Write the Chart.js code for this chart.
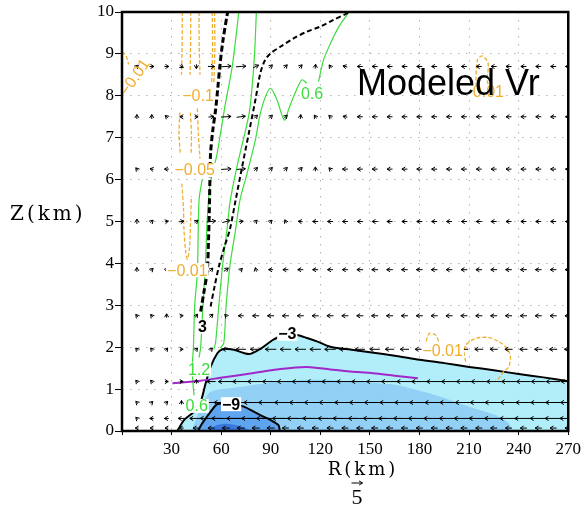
<!DOCTYPE html>
<html>
<head>
<meta charset="utf-8">
<script src="https://cdn.jsdelivr.net/npm/chart.js@4.4.1/dist/chart.umd.min.js"></script>
<style>
  html, body { margin: 0; padding: 0; background: #fff; }
</style>
</head>
<body>
<canvas id="vr" width="585" height="508"></canvas>
<script>
// radial wind (m/s) shading boundaries, R in km, Z in km
const vr3R = [33.5, 37.5, 43.5, 47.6, 50.6, 53.6, 57.6, 60.6, 64, 67.7, 73.7, 77.7, 83.7, 88.7, 91.6, 96, 100, 105.8, 112, 117.9, 126, 136.8, 150, 166, 180, 195, 210, 225, 240, 255, 270];
const vr3Z = [0, 0.26, 0.46, 0.7, 1.14, 1.53, 1.85, 1.95, 1.96, 1.94, 1.86, 1.84, 1.96, 2.1, 2.18, 2.26, 2.3, 2.29, 2.22, 2.14, 2.01, 1.95, 1.88, 1.79, 1.70, 1.62, 1.53, 1.45, 1.36, 1.28, 1.19];
const vr6R = [42, 46, 50, 53, 57, 65, 80, 95, 110, 126, 145, 166, 186, 200, 210, 226, 234, 236];
const vr6Z = [0, 0.4, 0.75, 0.92, 0.98, 1.02, 1.1, 1.18, 1.22, 1.22, 1.17, 1.1, 0.9, 0.72, 0.58, 0.38, 0.19, 0];
const vr9R = [46, 48, 51, 54, 57.6, 62, 66, 70, 73.7, 78, 83.7, 88, 91.8, 94.7, 95.3, 95.5];
const vr9Z = [0, 0.15, 0.32, 0.48, 0.64, 0.66, 0.66, 0.63, 0.58, 0.5, 0.38, 0.3, 0.22, 0.14, 0.05, 0];
const vr12R = [51, 54, 57, 61, 66, 71, 75, 78];
const vr12Z = [0, 0.08, 0.14, 0.17, 0.16, 0.12, 0.06, 0];

// positive (outflow) contours, dashed black
const out3aR = [47.6, 49.5, 51.6, 52.3, 52.8, 53.2, 53.6, 55, 56.6, 58, 59.2, 61, 63.9];
const out3aZ = [2.85, 3.3, 3.83, 4.5, 5.2, 6.0, 6.63, 7.2, 7.66, 8.2, 8.7, 9.3, 10];
const out3bR = [53.6, 56, 58.6, 62, 65.2, 68.7, 72.7, 76.7, 80.7, 83.7, 86.5, 89.8, 95.8, 103.8, 111.8, 119.9, 127.9, 136.9, 138];
const out3bZ = [2.97, 3.45, 3.92, 4.4, 4.8, 5.5, 6.31, 7.1, 7.9, 8.54, 8.85, 9.01, 9.17, 9.37, 9.53, 9.65, 9.81, 9.98, 10];

// vertical velocity (m/s), updraft contours
const wUp1R = [43.6, 42.8, 42.6, 43.2, 44, 45.6, 46.6, 48.5];
const wUp1Z = [0.85, 1.2, 1.6, 2.0, 3.0, 3.8, 5.5, 6.0];
const wUp2R = [46.6, 47.6, 49, 50.5, 51.5, 53, 55.5, 57.2, 59.6, 62.5, 66.7, 70.7];
const wUp2Z = [1.75, 2.0, 3.0, 4.0, 5.0, 5.8, 6.3, 6.55, 7.1, 7.8, 8.7, 10];
const wUp3R = [55.5, 56.6, 58.6, 61, 63.5, 65.5, 69.5, 73.7, 77, 78.7, 80.2, 81.3];
const wUp3Z = [1.95, 2.1, 3.0, 4.0, 4.8, 5.5, 6.3, 7.0, 7.6, 8.2, 9.0, 10];
const wUp4R = [59.5, 61.6, 63, 65.5, 68.7, 71.3, 75.7, 80.7, 83.7, 86.5, 89.8, 93.8, 98.2, 101, 103.8, 108.8, 111.8];
const wUp4Z = [1.98, 2.1, 3.0, 4.0, 4.8, 5.5, 6.15, 6.95, 7.58, 7.95, 8.18, 7.9, 7.42, 7.7, 7.98, 8.38, 8.3];
const wUp5R = [118.9, 121.9, 125, 128, 132, 136.9, 137.5];
const wUp5Z = [8.34, 8.85, 9.15, 9.41, 9.7, 9.97, 10];

// downdraft contours, dashed orange
const wDn = [
  [[36.5, 36.4, 36], [10, 9.3, 8.5]],
  [[35, 34.5, 35.3], [7.6, 7.1, 6.6]],
  [[36.2, 37.2, 37.5, 38.5, 39.6, 40.8, 41.5, 42], [5.9, 5.3, 4.8, 4.3, 4.1, 4.35, 5.0, 5.6]],
  [[41.6, 41.5, 41.2], [10, 9.3, 8.5]],
  [[41.4, 42, 41.8], [7.6, 7.1, 6.6]],
  [[46.6, 46.7, 47.2], [10, 9.2, 8.5]],
  [[45.6, 46.2, 47.2], [7.7, 7.1, 6.5]],
  [[54.6, 54.8, 54.3], [10, 9.2, 8.3]],
  [[56, 56.2, 55.6], [10, 9.2, 8.3]],
  [[0, 2.5, 4], [9.05, 8.95, 8.75]],
  [[214, 215, 218, 221.5, 221, 222], [8.22, 8.85, 8.95, 8.78, 8.38, 8.2]],
  [[184, 184, 186, 189.8, 192], [2.0, 2.13, 2.33, 2.29, 2.09]],
  [[208, 207, 208, 214, 222, 228, 233, 235, 234, 231, 228, 226], [1.65, 1.85, 2.05, 2.21, 2.23, 2.13, 1.97, 1.77, 1.53, 1.42, 1.26, 1.19]]
];

// boundary layer top
const blR = [30.5, 47.6, 59.6, 77.7, 95.8, 111.8, 126, 138, 152, 165, 179];
const blZ = [1.14, 1.2, 1.27, 1.37, 1.48, 1.53, 1.47, 1.42, 1.38, 1.32, 1.26];

// wind vectors (u radial, w vertical) on model levels
const arrowR = [9, 18, 27, 36, 45, 54, 63, 72, 81, 90, 99, 108, 117, 126, 135, 144, 153, 162, 171, 180, 189, 198, 207, 216, 225, 234, 243, 252, 261, 270];
const arrowZ = [8.7, 7.5, 6.25, 5.0, 3.85, 2.75, 1.95, 1.18, 0.68, 0.3, 0.07];
const arrowU = [
  [1.2, 2, 2, 1.6, 0, 3, 4.5, 4.5, 2.5, 1.5, 1.5, 1.5, 0.2, -1, -2, -2.5, -2.5, -2.5, -2.5, -2.5, -2.5, -2.5, -2.5, -2.5, -2.5, -2.5, -2.5, -2.5, -2.5, -2.5],
  [0, 0, -1.2, -1.5, 1.5, 2.5, 4.5, 4, 1.5, 1.5, 1.5, 0.2, -1, -1.3, -2, -2.5, -2.5, -2.5, -2.5, -2.5, -2.5, -2.5, -2.5, -2.5, -2.5, -2.5, -2.5, -2.5, -2.5, -2.5],
  [-1, -1.6, -2, -1.5, 1, 2.5, 4.5, 4, 1.5, 1.5, 1.5, 1.5, 0, -1.2, -2.5, -2.5, -2.5, -2.5, -2.5, -2.5, -2.5, -2.5, -2.5, -2.5, -2.5, -2.5, -2.5, -2.5, -2.5, -2.5],
  [0, 1.2, 1.6, 2.2, 1.5, 4, 3.5, 2, 1.2, 1.2, -0.8, -2, -2.5, -2.5, -2.5, -2.5, -2.5, -2.5, -2.5, -2.5, -2.5, -2.5, -2.5, -2.5, -2.5, -2.5, -2.5, -2.5, -2.5, -2.5],
  [0, 1.2, 1.2, 1, 1, 1.5, 2, 1.2, -0.5, -2, -2.5, -2.5, -2.5, -2.5, -2.5, -2.8, -2.8, -2.8, -2.8, -2.8, -2.8, -2.8, -2.8, -2.8, -2.8, -2.8, -2.8, -2.8, -2.8, -2.8],
  [-1, -1, 0, 1.5, 1, 1.5, -1.2, -2.5, -3, -3, -3, -3, -3, -3, -3, -3, -3, -3, -3, -3, -3, -3, -3, -3, -3, -3, -3, -3, -3, -3],
  [-1, -1, 1, 1.5, 1, 1, -3.5, -4.5, -5, -5, -5, -5, -5, -5, -5, -4.5, -4.5, -4, -4, -4, -4, -3.8, -3.8, -3.8, -3.5, -3.5, -3.5, -3.5, -3.5, -3.5],
  [-1, -1, 1.5, 1.5, 0, -4, -7, -7.5, -7.5, -7.5, -7.5, -7.5, -7.5, -7.5, -7.5, -7.5, -7.5, -7.5, -7, -7, -7, -7, -7, -7, -6.5, -6.5, -6.5, -6.5, -6.5, -6.5],
  [-1, 1, 1, 0, -2, -9, -11, -11, -11, -11, -10, -10, -10, -10, -9.5, -9.5, -9.5, -9, -9, -9, -8.5, -8.5, -8, -8, -8, -7.5, -7, -7, -7, -7],
  [-1, -1.8, -2, -3, -6, -10, -13, -13, -13, -13, -12, -12, -11.5, -11, -11, -10.5, -10.5, -10, -10, -10, -9.5, -9, -9, -9, -8.5, -8, -8, -7.5, -7.5, -7.5],
  [-1.5, -1.5, -1.5, -2, -3, -3, -3.5, -3.5, -3.5, -3.5, -3, -3, -3, -3, -3, -3, -3, -3, -3, -3, -3, -3, -3, -3, -3, -3, -3, -3, -3, -3]
];
const arrowW = [
  [1.2, 0, 0, -1, -2, 0, 0.3, 0.3, 1.2, 1.5, 1.5, 1.5, 2, 1.4, 0.5, 0, 0, 0, 0, 0, 0, 0, 0, 0, 0, 0, 0, 0, 0, 0],
  [2, 2, 1.2, 0, 0, 0.3, 0.3, 0.5, 1.5, 1.5, 1.5, 2, 1.5, 1.2, 0.4, 0, 0, 0, 0, 0, 0, 0, 0, 0, 0, 0, 0, 0, 0, 0],
  [1.2, 0.3, 0, 0, 0, 0, 0.3, 0.3, 1.5, 1.5, 1.5, 1.5, 2, 1.2, 0, 0, 0, 0, 0, 0, 0, 0, 0, 0, 0, 0, 0, 0, 0, 0],
  [2.2, 1.2, 0.3, 0.3, 1.2, 0.5, 1, 0.3, 1.2, 1.2, 1.5, 0.2, 0, 0, 0, 0, 0, 0, 0, 0, 0, 0, 0, 0, 0, 0, 0, 0, 0, 0],
  [2, 1.2, 1.2, 0.5, 1, 1.5, 1.5, 1.2, 1.8, 0, 0, 0, 0, 0, 0, 0, 0, 0, 0, 0, 0, 0, 0, 0, 0, 0, 0, 0, 0, 0],
  [1.2, 1.2, 1.8, 0.2, 1.5, 1.5, 1.2, 0, 0, 0, 0, 0, 0, 0, 0, 0, 0, 0, 0, 0, 0, 0, 0, 0, 0, 0, 0, 0, 0, 0],
  [1.2, 1.2, 1.2, 0, 1.2, 1.2, 0, 0, 0, 0, 0, 0, 0, 0, 0, 0, 0, 0, 0, 0, 0, 0, 0, 0, 0, 0, 0, 0, 0, 0],
  [1.2, 1.2, 0, 0, 1.8, 0, 0, 0, 0, 0, 0, 0, 0, 0, 0, 0, 0, 0, 0, 0, 0, 0, 0, 0, 0, 0, 0, 0, 0, 0],
  [1, 1, 1, 1.8, 0.5, 0, 0, 0, 0, 0, 0, 0, 0, 0, 0, 0, 0, 0, 0, 0, 0, 0, 0, 0, 0, 0, 0, 0, 0, 0],
  [1, 0, 0, 0, 0, 0, 0, 0, 0, 0, 0, 0, 0, 0, 0, 0, 0, 0, 0, 0, 0, 0, 0, 0, 0, 0, 0, 0, 0, 0],
  [0, 0, 0, 0, 0, 0, 0, 0, 0, 0, 0, 0, 0, 0, 0, 0, 0, 0, 0, 0, 0, 0, 0, 0, 0, 0, 0, 0, 0, 0]
];
const refSpeed = 5;

// contour labels
const GREEN = '#3cdc3c', ORANGE = '#efae30';
const contourLabels = [
  { text: '−3', R: 100, z: 2.32, color: '#000', bold: true },
  { text: '−9', R: 66, z: 0.64, color: '#000', bold: true },
  { text: '3', R: 48.6, z: 2.49, color: '#000', bold: true },
  { text: '1.2', R: 46.6, z: 1.47, color: GREEN },
  { text: '0.6', R: 45.2, z: 0.6, color: GREEN },
  { text: '0.6', R: 115, z: 8.06, color: GREEN },
  { text: '−0.1', R: 46, z: 8.0, color: ORANGE },
  { text: '−0.05', R: 44, z: 6.23, color: ORANGE },
  { text: '−0.01', R: 39.5, z: 3.84, color: ORANGE },
  { text: '−0.01', R: 194, z: 1.93, color: ORANGE },
  { text: '0.01', R: 221.7, z: 8.1, color: ORANGE },
  { text: '−0.01', R: 7.5, z: 8.45, color: ORANGE, rot: -55 }
];

function pts(rs, zs) {
  return rs.map((r, i) => ({ x: r, y: zs[i] }));
}
function shade(rs, zs, color, order) {
  return { data: pts(rs, zs), backgroundColor: color, borderWidth: 0, borderColor: 'rgba(0,0,0,0)',
           fill: 'origin', pointRadius: 0, tension: 0.2, clip: 0, order: order };
}
function contour(rs, zs, color, width, dash, order) {
  return { data: pts(rs, zs), borderColor: color, borderWidth: width, borderDash: dash,
           fill: false, pointRadius: 0, tension: 0.3, clip: 0, order: order };
}

const datasets = [
  shade(vr3R, vr3Z, '#b2eef9', 14),
  shade(vr6R, vr6Z, '#92d0f6', 13),
  shade(vr9R, vr9Z, '#5fa4ef', 12),
  shade(vr12R, vr12Z, '#3b76dc', 11),
  contour(vr3R, vr3Z, '#000', 2, [], 8),
  contour(vr9R, vr9Z, '#000', 2, [], 8),
  contour(wUp1R, wUp1Z, GREEN, 1.2, [], 6),
  contour(wUp2R, wUp2Z, GREEN, 1.2, [], 6),
  contour(wUp3R, wUp3Z, GREEN, 1.2, [], 6),
  contour(wUp4R, wUp4Z, GREEN, 1.2, [], 6),
  contour(wUp5R, wUp5Z, GREEN, 1.2, [], 6),
  contour(out3aR, out3aZ, '#000', 3, [6, 3], 5),
  contour(out3bR, out3bZ, '#000', 2, [5, 3], 5),
  contour(blR, blZ, '#a028c8', 2, [], 4)
];
wDn.forEach(s => datasets.push(contour(s[0], s[1], ORANGE, 1.3, [4, 2], 7)));

const K = 2.2; // px per m/s for the vectors

function arrow(ctx, x, y, dx, dy) {
  if (Math.hypot(dx, dy) < 0.5) return;
  const x0 = x - dx / 2, y0 = y - dy / 2, x1 = x + dx / 2, y1 = y + dy / 2;
  const a = Math.atan2(dy, dx), h = 4, sp = 0.55;
  ctx.moveTo(x0, y0);
  ctx.lineTo(x1, y1);
  ctx.moveTo(x1 - h * Math.cos(a - sp), y1 - h * Math.sin(a - sp));
  ctx.lineTo(x1, y1);
  ctx.lineTo(x1 - h * Math.cos(a + sp), y1 - h * Math.sin(a + sp));
}

const overlay = {
  id: 'overlay',
  afterDraw(chart) {
    const ctx = chart.ctx, area = chart.chartArea;
    const xs = chart.scales.x, ys = chart.scales.y;

    // wind vectors
    ctx.save();
    ctx.beginPath();
    ctx.rect(area.left, area.top, area.right - area.left, area.bottom - area.top);
    ctx.clip();
    ctx.strokeStyle = '#000';
    ctx.lineWidth = 1;
    ctx.beginPath();
    arrowZ.forEach((z, j) => {
      arrowR.forEach((r, i) => {
        arrow(ctx, xs.getPixelForValue(r), ys.getPixelForValue(z), arrowU[j][i] * K, -arrowW[j][i] * K);
      });
    });
    ctx.stroke();

    // contour labels
    contourLabels.forEach(l => {
      const px = xs.getPixelForValue(l.R), py = ys.getPixelForValue(l.z);
      ctx.save();
      ctx.translate(px, py);
      ctx.font = (l.bold ? 'bold 16px' : '16px') + ' "Liberation Sans", Arial, sans-serif';
      ctx.textAlign = 'center';
      ctx.textBaseline = 'middle';
      if (l.rot) {
        ctx.rotate(l.rot * Math.PI / 180);
      } else {
        const w = ctx.measureText(l.text).width;
        ctx.fillStyle = '#fff';
        ctx.fillRect(-w / 2 - 1, -7, w + 2, 14);
      }
      ctx.fillStyle = l.color;
      ctx.fillText(l.text, 0, 1);
      ctx.restore();
    });
    ctx.restore();

    // frame
    ctx.save();
    ctx.strokeStyle = '#000';
    ctx.lineWidth = 2.5;
    ctx.strokeRect(area.left, area.top, area.right - area.left, area.bottom - area.top);

    ctx.fillStyle = '#000';
    ctx.font = '36px "Liberation Sans", Arial, sans-serif';
    ctx.textAlign = 'left';
    ctx.textBaseline = 'alphabetic';
    ctx.fillText('Modeled Vr', 357, 95);

    ctx.textBaseline = 'middle';
    ctx.font = '20px "DejaVu Serif", serif';
    ctx.letterSpacing = '3px';
    ctx.fillText('Z(km)', 10, 215);

    ctx.textAlign = 'center';
    ctx.font = '18px "DejaVu Serif", serif';
    ctx.fillText('R(km)', 363, 470);
    ctx.letterSpacing = '0px';

    // reference vector
    ctx.font = '22px "Liberation Serif", serif';
    ctx.fillText(String(refSpeed), 357, 498);
    ctx.lineWidth = 1;
    ctx.beginPath();
    arrow(ctx, 357, 483, refSpeed * K, 0);
    ctx.stroke();
    ctx.restore();
  }
};

const edge = (lo, hi) => c => (c.tick && (c.tick.value === lo || c.tick.value === hi)) ? 'rgba(0,0,0,0)' : '#b4b4b4';
const tickFont = { family: '"Liberation Serif", serif', size: 17 };

new Chart(document.getElementById('vr'), {
  type: 'line',
  data: { datasets: datasets },
  options: {
    responsive: false,
    animation: false,
    layout: { padding: { left: 0, right: 16, top: 12, bottom: 0 } },
    plugins: { legend: { display: false }, tooltip: { enabled: false } },
    scales: {
      x: {
        type: 'linear', min: 0, max: 270,
        ticks: { stepSize: 30, color: '#000', font: tickFont, padding: 4, maxRotation: 0,
                 callback: v => v === 0 ? '' : v },
        grid: { color: edge(0, 270), lineWidth: 1, tickLength: 4, tickColor: '#000' },
        border: { display: false, dash: [1.5, 6.5] },
        afterFit: s => { s.height = 77; }
      },
      y: {
        min: 0, max: 10,
        ticks: { stepSize: 1, color: '#000', font: tickFont, padding: 1 },
        grid: { color: edge(0, 10), lineWidth: 1, tickLength: 7, tickColor: '#000' },
        border: { display: false, dash: [1.5, 6.5] },
        afterFit: s => { s.width = 122; }
      }
    }
  },
  plugins: [overlay]
});
</script>
</body>
</html>
